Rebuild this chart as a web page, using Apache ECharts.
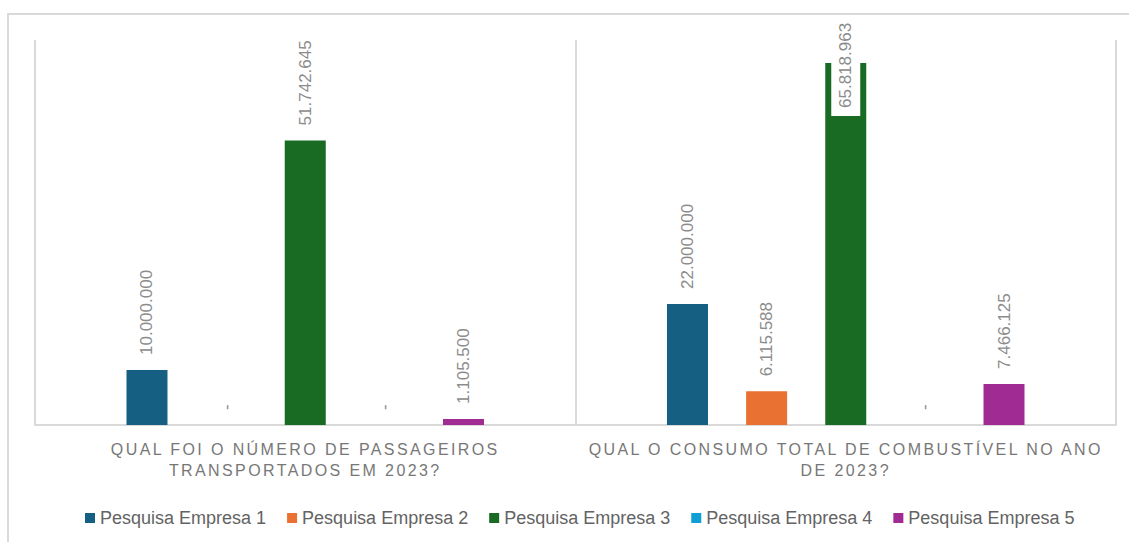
<!DOCTYPE html>
<html>
<head>
<meta charset="utf-8">
<title>Pesquisa Empresas 2023</title>
<script src="https://cdn.jsdelivr.net/npm/echarts@6/dist/echarts.min.js"></script>
<style>
  html, body { margin: 0; padding: 0; background: #ffffff; }
  #chart { width: 1129px; height: 542px; }
</style>
</head>
<body>
<div id="chart"></div>
<script>
// Questions (categories), one line break where the label wraps
const categories = [
  'QUAL FOI O NÚMERO DE PASSAGEIROS\nTRANSPORTADOS EM 2023?',
  'QUAL O CONSUMO TOTAL DE COMBUSTÍVEL NO ANO\nDE 2023?'
];

// Answers per company (0 = no answer, shown as "-")
const empresa1 = [10000000, 22000000];
const empresa2 = [0, 6115588];
const empresa3 = [51742645, 65818963];
const empresa4 = [0, 0];
const empresa5 = [1105500, 7466125];

const seriesNames = [
  'Pesquisa Empresa 1',
  'Pesquisa Empresa 2',
  'Pesquisa Empresa 3',
  'Pesquisa Empresa 4',
  'Pesquisa Empresa 5'
];
const seriesColors = ['#156082', '#E97132', '#196B24', '#0F9ED5', '#A02B93'];
const seriesValues = [empresa1, empresa2, empresa3, empresa4, empresa5];

function formatValue(v) {
  if (v === 0) return '-';
  return String(v).replace(/\B(?=(\d{3})+(?!\d))/g, '.');
}

const labelBase = {
  show: true,
  position: 'top',
  rotate: 90,
  align: 'left',
  verticalAlign: 'middle',
  distance: 15,
  color: '#8c8c8c',
  fontSize: 17,
  fontFamily: 'Liberation Sans, Arial, sans-serif',
  formatter: p => formatValue(p.value)
};

const series = seriesNames.map((name, i) => ({
  name,
  type: 'bar',
  barWidth: 41,
  barGap: '93%',
  itemStyle: { color: seriesColors[i] },
  label: labelBase,
  data: seriesValues[i].map((v, j) => {
    // the tallest bar keeps its label tucked inside the bar top on a white box
    if (i === 2 && j === 1) {
      return {
        value: v,
        label: {
          distance: -53,
          backgroundColor: '#ffffff',
          padding: [6, 0, 6, 8]
        }
      };
    }
    return v;
  })
}));

const chart = echarts.init(document.getElementById('chart'), null, { renderer: 'svg' });

chart.setOption({
  animation: false,
  backgroundColor: '#ffffff',
  textStyle: { fontFamily: 'Liberation Sans, Arial, sans-serif' },
  graphic: [{
    type: 'rect',
    silent: true,
    shape: { x: 8, y: 14, width: 1200, height: 600 },
    style: { fill: 'none', stroke: '#d9d9d9', lineWidth: 2 }
  }],
  grid: { left: 35, right: 13, top: 40, bottom: 117, containLabel: false },
  legend: {
    data: seriesNames,
    left: 80,
    top: 504,
    icon: 'rect',
    itemWidth: 10,
    itemHeight: 10,
    itemGap: 21,
    textStyle: { fontSize: 18, color: '#636363', fontFamily: 'Liberation Sans, Arial, sans-serif' }
  },
  xAxis: {
    type: 'category',
    data: categories,
    axisLine: { lineStyle: { color: '#d9d9d9', width: 2 } },
    axisTick: { show: false },
    splitLine: { show: true, lineStyle: { color: '#d9d9d9', width: 2 } },
    axisLabel: {
      interval: 0,
      margin: 14,
      fontSize: 16,
      lineHeight: 21,
      color: '#777777',
      fontFamily: 'Liberation Sans, Arial, sans-serif'
    }
  },
  yAxis: {
    type: 'value',
    min: 0,
    max: 70000000,
    show: false,
    splitLine: { show: false }
  },
  series
});

// spaced capitals for the question labels
const questionLines = new Set(categories.flatMap(c => c.split('\n')));
document.querySelectorAll('#chart svg text').forEach(t => {
  if (questionLines.has(t.textContent)) {
    t.setAttribute('letter-spacing', '2.4px');
  }
});
</script>
</body>
</html>
